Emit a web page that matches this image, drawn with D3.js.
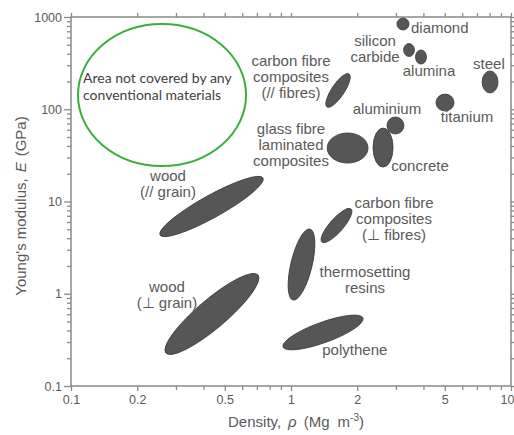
<!DOCTYPE html>
<html>
<head>
<meta charset="utf-8">
<script src="https://cdn.jsdelivr.net/npm/d3@7"></script>
<style>
  html, body { margin: 0; padding: 0; background: #fff; }
  svg { display: block; }
</style>
</head>
<body>
<div id="chart"></div>
<script>
var width = 514;
var height = 435;

// axis ticks
var xMajor = [0.1, 0.2, 0.5, 1, 2, 5, 10];
var xMinor = [0.3, 0.4, 0.6, 0.7, 0.8, 0.9, 3, 4, 6, 7, 8, 9];
var yMajor = [0.1, 1, 10, 100, 1000];
var yMinor = [];
[0.1, 1, 10, 100].forEach(d => { for (var k = 2; k <= 9; k++) yMinor.push(d * k); });

// materials drawn as axis-aligned bubbles: density range (Mg/m3), modulus range (GPa)
var boxNames = ["diamond", "silicon carbide", "alumina", "steel", "titanium", "aluminium", "concrete", "glass fibre"];
var boxRho = [[3.03, 3.44], [3.25, 3.64], [3.68, 4.13], [7.39, 8.73], [4.56, 5.51], [2.73, 3.26], [2.36, 2.91], [1.46, 2.24]];
var boxE = [[723, 976], [373, 516], [309, 439], [150, 260], [95.7, 146], [53.9, 82.4], [23.6, 62.6], [26.1, 55.3]];

// materials drawn as tilted bubbles: long axis from -> to (density, modulus), minor/major ratio
var tiltNames = ["wood //", "wood perp", "carbon fibre //", "carbon fibre perp", "thermosetting", "polythene"];
var tiltFrom = [[0.254, 4.33], [0.270, 0.228], [1.458, 106], [1.383, 3.64], [1.021, 0.855], [0.920, 0.265]];
var tiltTo = [[0.746, 18.0], [0.708, 1.60], [1.835, 241], [1.874, 8.29], [1.220, 5.03], [2.125, 0.546]];
var tiltAspect = [0.19, 0.24, 0.32, 0.31, 0.29, 0.24];

// the empty region (green outline)
var emptyRho = [0.1076, 0.6246];
var emptyE = [24.3, 840];

// labels: text lines, anchor (density, modulus) of first baseline, alignment
var labelText = [
  ["diamond"], ["silicon", "carbide"], ["alumina"], ["steel"], ["titanium"], ["aluminium"],
  ["carbon fibre", "composites", "(// fibres)"], ["glass fibre", "laminated", "composites"],
  ["concrete"], ["wood", "(// grain)"], ["wood", "(\u22a5 grain)"],
  ["carbon fibre", "composites", "(\u22a5 fibres)"], ["thermosetting", "resins"], ["polythene"]
];
var labelAt = [
  [3.51, 671], [2.41, 485], [4.24, 229], [7.94, 273], [6.31, 72.8], [2.73, 88.8],
  [1.0, 294], [1.0, 53.9], [3.86, 21.4], [0.276, 16.7], [0.273, 1.045],
  [2.94, 8.5], [2.17, 1.52], [1.95, 0.217]
];
var labelAnchor = ["start", "middle", "middle", "middle", "middle", "middle",
  "middle", "middle", "middle", "middle", "middle", "middle", "middle", "middle"];

var emptyText = ["Area not covered by any", "conventional materials"];
var emptyTextAt = [0.1134, 192.6];

var x = d3.scaleLog().domain([0.1, 10]).range([71, 511]);
var y = d3.scaleLog().domain([0.1, 1000]).range([386, 17]);

var axisColor = "#8a8a8a";
var textColor = "#5a5a5a";
var font = "'Liberation Sans', Arial, Helvetica, sans-serif";

var svg = d3.select("#chart").append("svg")
    .attr("width", width)
    .attr("height", height)
    .style("font-family", font);

// frame + ticks
function styleAxis(g) {
    g.select(".domain").remove();
    g.selectAll("line").attr("stroke", axisColor).attr("stroke-width", 1.3);
    g.selectAll("text").attr("fill", textColor).style("font-size", "12.5px").style("font-family", font);
}

var bottom = svg.append("g")
    .attr("transform", "translate(0,386)")
    .call(d3.axisBottom(x).tickValues(xMajor).tickSize(5).tickPadding(4).tickFormat(d3.format("~g")))
    .call(styleAxis);
// last label sits on the window edge: keep it inside
bottom.selectAll(".tick text").filter(d => d === 10)
    .attr("text-anchor", "end")
    .attr("x", 3);

svg.append("g")
    .attr("transform", "translate(0,386)")
    .call(d3.axisBottom(x).tickValues(xMinor).tickSize(4).tickFormat(""))
    .call(styleAxis);
svg.append("g")
    .attr("transform", "translate(0,17)")
    .call(d3.axisTop(x).tickValues(xMajor.concat(xMinor)).tickSize(4).tickFormat(""))
    .call(styleAxis);
svg.append("g")
    .attr("transform", "translate(71,0)")
    .call(d3.axisLeft(y).tickValues(yMajor).tickSize(7).tickPadding(2).tickFormat(d3.format("~g")))
    .call(styleAxis);
svg.append("g")
    .attr("transform", "translate(71,0)")
    .call(d3.axisLeft(y).tickValues(yMinor).tickSize(4).tickFormat(""))
    .call(styleAxis);
svg.append("g")
    .attr("transform", "translate(511,0)")
    .call(d3.axisRight(y).tickValues(yMajor.concat(yMinor)).tickSize(4).tickFormat(""))
    .call(styleAxis);

svg.append("rect")
    .attr("x", x(0.1)).attr("y", y(1000))
    .attr("width", x(10) - x(0.1)).attr("height", y(0.1) - y(1000))
    .attr("fill", "none")
    .attr("stroke", axisColor)
    .attr("stroke-width", 1.5);

// axis titles
var yt = svg.append("text")
    .attr("transform", "translate(26,206) rotate(-90)")
    .attr("text-anchor", "middle")
    .attr("fill", textColor)
    .style("font-size", "15px");
yt.append("tspan").text("Young's modulus,");
yt.append("tspan").attr("dx", 6).style("font-style", "italic").text("E");
yt.append("tspan").attr("dx", 6).text("(GPa)");

var xt = svg.append("text")
    .attr("x", 296)
    .attr("y", 427)
    .attr("text-anchor", "middle")
    .attr("fill", textColor)
    .style("font-size", "15px");
xt.append("tspan").text("Density,");
xt.append("tspan").attr("dx", 7).style("font-style", "italic").text("\u03c1");
xt.append("tspan").attr("dx", 7).text("(Mg");
xt.append("tspan").attr("dx", 8).text("m");
xt.append("tspan").attr("dy", -6).style("font-size", "10px").text("-3");
xt.append("tspan").attr("dy", 6).text(")");

// green outline of the empty region
svg.append("ellipse")
    .attr("cx", (x(emptyRho[0]) + x(emptyRho[1])) / 2)
    .attr("cy", (y(emptyE[0]) + y(emptyE[1])) / 2)
    .attr("rx", (x(emptyRho[1]) - x(emptyRho[0])) / 2)
    .attr("ry", (y(emptyE[0]) - y(emptyE[1])) / 2)
    .attr("fill", "none")
    .attr("stroke", "#3cae3f")
    .attr("stroke-width", 2);

svg.append("g")
    .attr("fill", "#3f3f3f")
    .style("font-family", "Lato, 'Open Sans', sans-serif")
    .style("font-size", "14px")
    .selectAll("text")
    .data(emptyText)
    .join("text")
    .attr("x", x(emptyTextAt[0]))
    .attr("y", (d, i) => y(emptyTextAt[1]) + i * 17)
    .text(d => d);

var bubbleFill = "#565656";
var bubbleStroke = "#3a3a3a";

// axis-aligned bubbles
svg.append("g")
    .selectAll("ellipse")
    .data(boxNames)
    .join("ellipse")
    .attr("cx", (d, i) => (x(boxRho[i][0]) + x(boxRho[i][1])) / 2)
    .attr("cy", (d, i) => (y(boxE[i][0]) + y(boxE[i][1])) / 2)
    .attr("rx", (d, i) => (x(boxRho[i][1]) - x(boxRho[i][0])) / 2)
    .attr("ry", (d, i) => (y(boxE[i][0]) - y(boxE[i][1])) / 2)
    .attr("fill", bubbleFill)
    .attr("stroke", bubbleStroke)
    .attr("stroke-width", 0.8);

// tilted bubbles
svg.append("g")
    .selectAll("ellipse")
    .data(tiltNames)
    .join("ellipse")
    .attr("transform", (d, i) => {
        var x1 = x(tiltFrom[i][0]), y1 = y(tiltFrom[i][1]);
        var x2 = x(tiltTo[i][0]), y2 = y(tiltTo[i][1]);
        var ang = Math.atan2(y2 - y1, x2 - x1) * 180 / Math.PI;
        return `translate(${(x1 + x2) / 2},${(y1 + y2) / 2}) rotate(${ang})`;
    })
    .attr("rx", (d, i) => Math.hypot(x(tiltTo[i][0]) - x(tiltFrom[i][0]), y(tiltTo[i][1]) - y(tiltFrom[i][1])) / 2)
    .attr("ry", (d, i) => tiltAspect[i] * Math.hypot(x(tiltTo[i][0]) - x(tiltFrom[i][0]), y(tiltTo[i][1]) - y(tiltFrom[i][1])) / 2)
    .attr("fill", bubbleFill)
    .attr("stroke", bubbleStroke)
    .attr("stroke-width", 0.8);

// material labels
svg.append("g")
    .selectAll("text")
    .data(labelText)
    .join("text")
    .attr("text-anchor", (d, i) => labelAnchor[i])
    .attr("fill", textColor)
    .style("font-size", "15px")
    .each(function(lines, i) {
        d3.select(this).selectAll("tspan")
            .data(lines)
            .join("tspan")
            .attr("x", x(labelAt[i][0]))
            .attr("y", (d, j) => y(labelAt[i][1]) + j * 15.75)
            .text(d => d);
    });
</script>
</body>
</html>
